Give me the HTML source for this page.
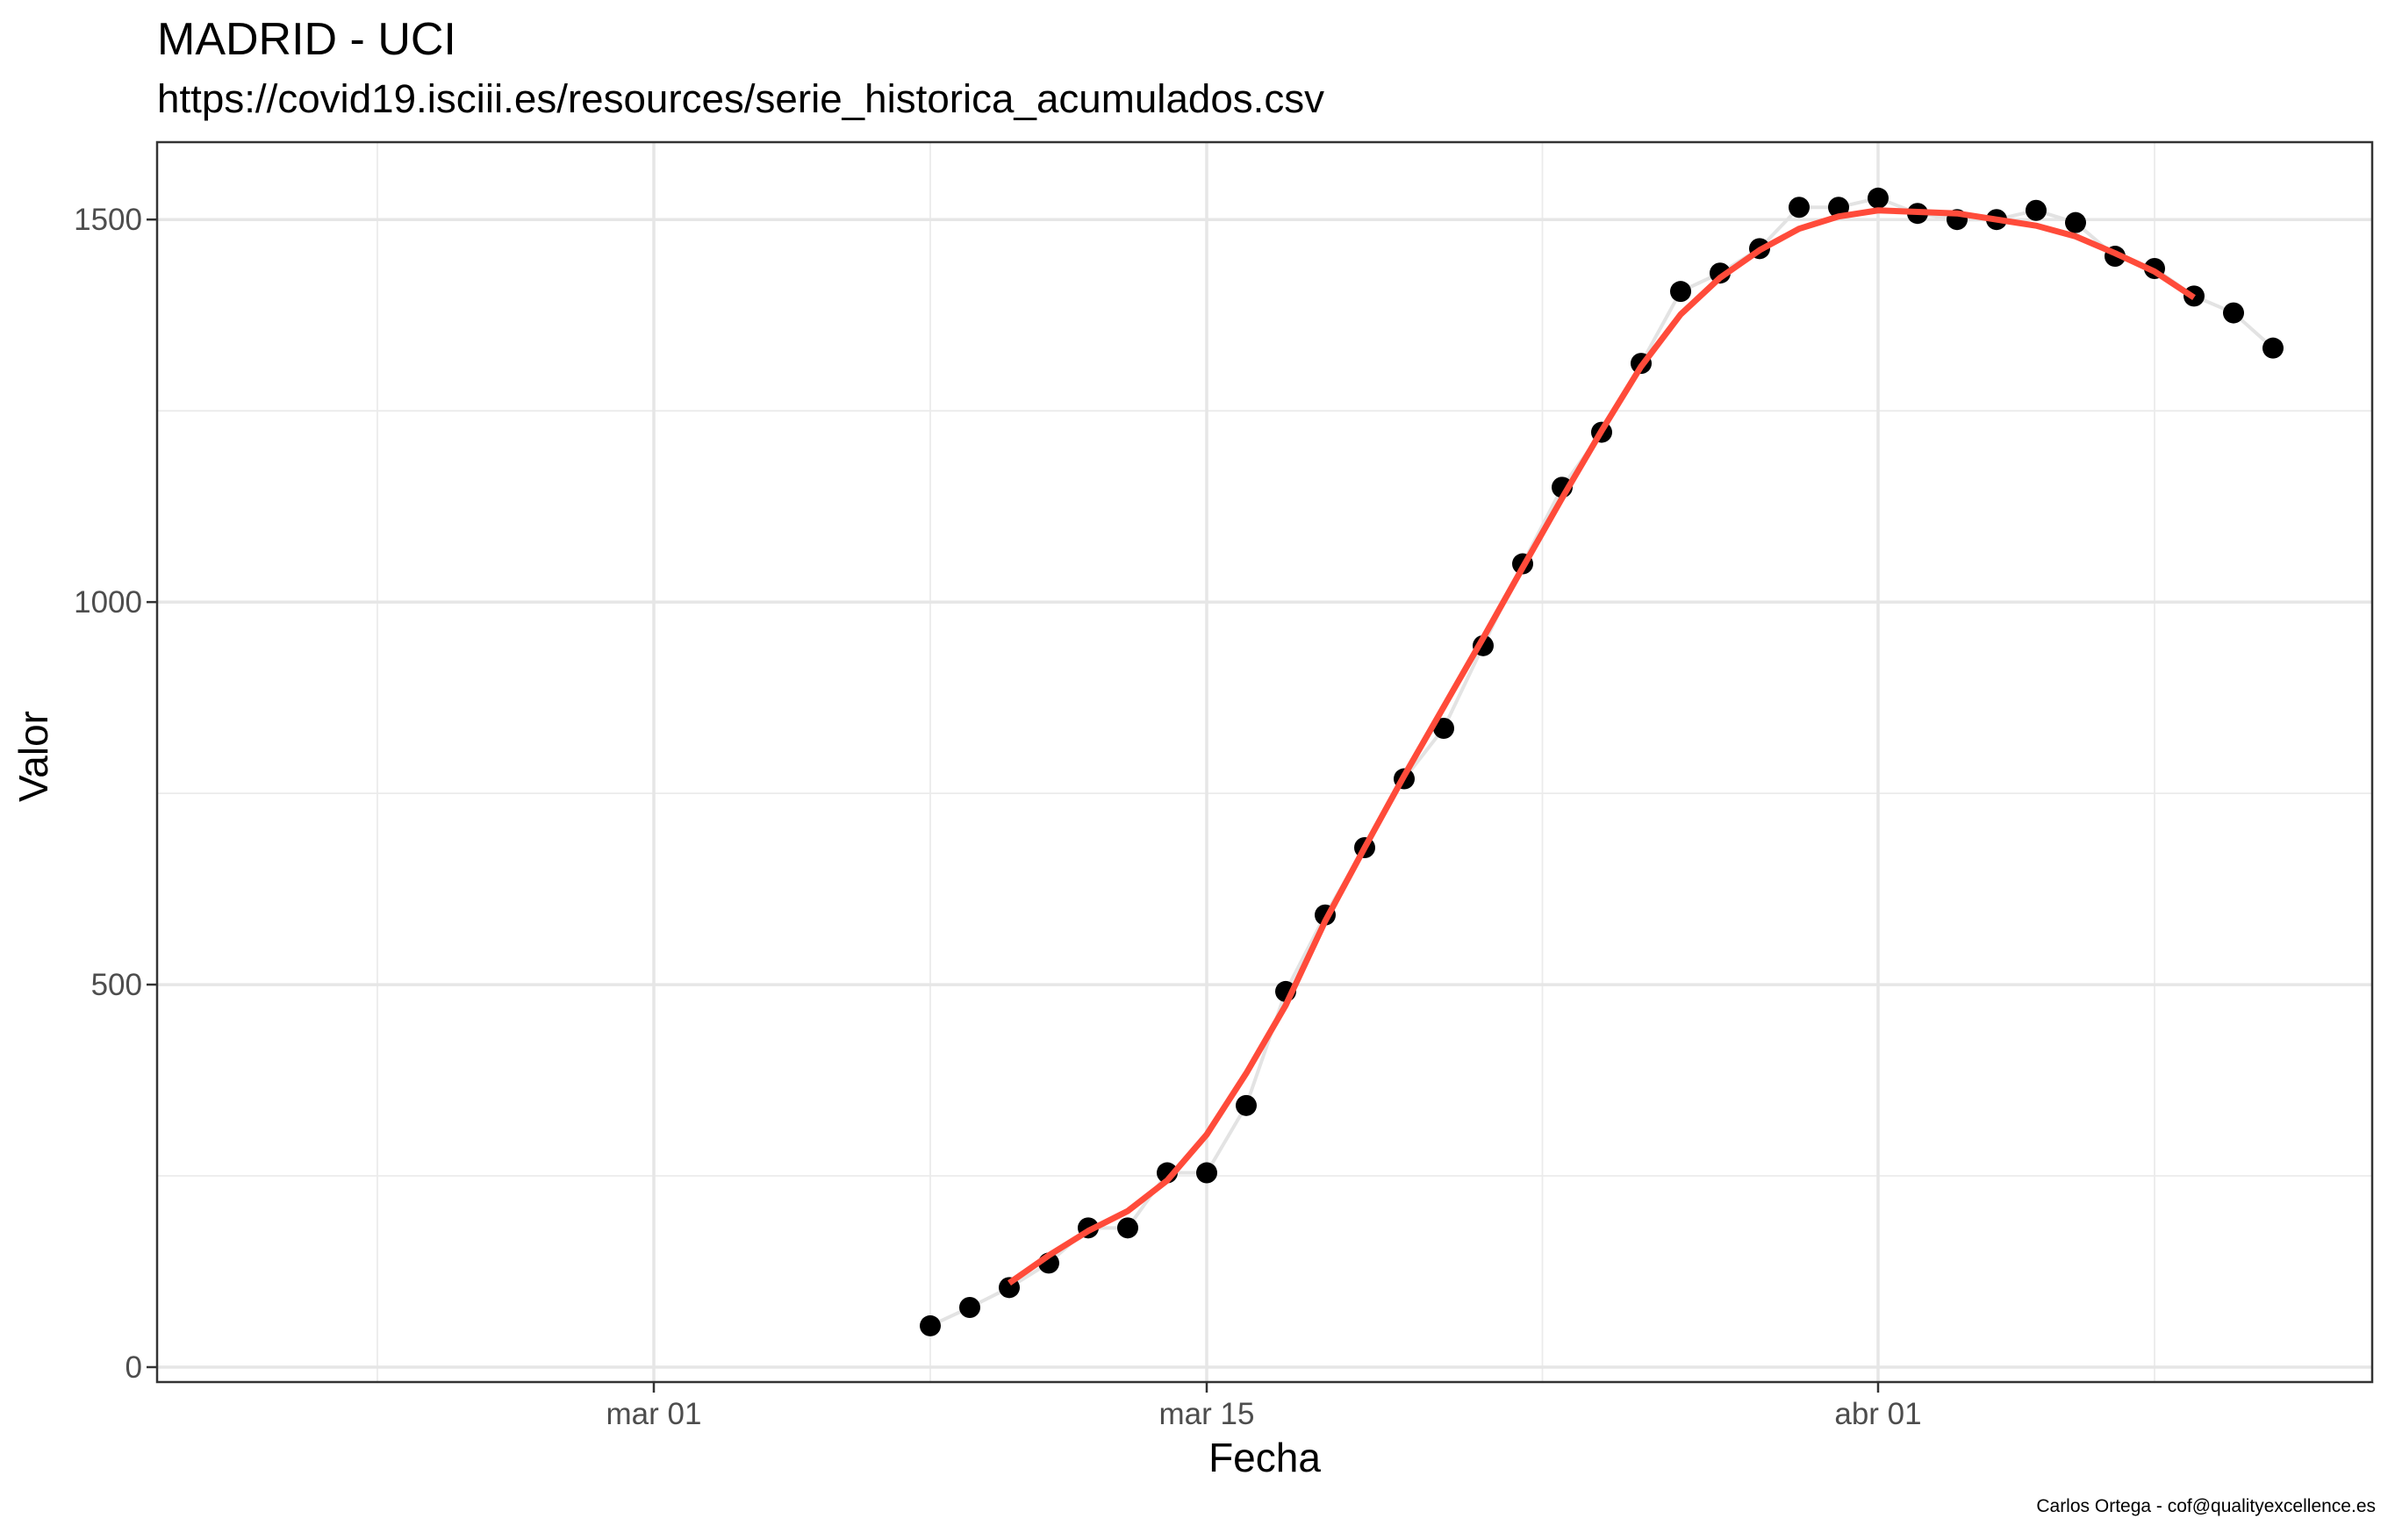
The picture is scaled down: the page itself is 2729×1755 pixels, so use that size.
<!DOCTYPE html>
<html><head><meta charset="utf-8"><style>
html,body{margin:0;padding:0;background:#fff}
svg text{font-family:"Liberation Sans",Arial,sans-serif}
</style></head><body>
<svg id="chart" width="2729" height="1750" xmlns="http://www.w3.org/2000/svg">
<rect x="0" y="0" width="2729" height="1750" fill="#fff"/>
<text x="179" y="62" font-size="52" fill="#000">MADRID - UCI</text>
<text x="179" y="128" font-size="45" textLength="1330" lengthAdjust="spacingAndGlyphs" fill="#000">https://covid19.isciii.es/resources/serie_historica_acumulados.csv</text>
<g id="grid"></g>
<g id="marks"></g>
<rect x="179" y="162" width="2524" height="1413" fill="none" stroke="#333" stroke-width="2.5"/>
<g id="axes"></g>
<text x="1441" y="1677" font-size="46" text-anchor="middle" fill="#000">Fecha</text>
<text transform="translate(54,862) rotate(-90)" font-size="46" text-anchor="middle" fill="#000">Valor</text>
<text x="2707" y="1723" font-size="21" text-anchor="end" fill="#000">Carlos Ortega - cof@qualityexcellence.es</text>
</svg>
<script>
// days since Mar 01 for each observation (Mar 8 .. Apr 11)
const pointDays = [7,8,9,10,11,12,13,14,15,16,17,18,19,20,21,22,23,24,25,26,27,28,29,30,31,32,33,34,35,36,37,38,39,40,41];
const pointValues = [54,78,104,136,182,182,254,254,342,491,591,679,769,835,943,1050,1150,1222,1312,1406,1430,1462,1516,1516,1528,1508,1500,1500,1512,1496,1452,1436,1400,1378,1332];
// smoothed series (Mar 10 .. Apr 9)
const smoothDays = [9,10,11,12,13,14,15,16,17,18,19,20,21,22,23,24,25,26,27,28,29,30,31,32,33,34,35,36,37,38,39];
const smoothValues = [110,146,178,204,244,304,384,473,583,679,773,863,953,1045,1136,1224,1308,1376,1424,1460,1488,1504,1512,1510,1508,1500,1492,1478,1456,1432,1398];
const xMajorTicks = [0,14,31];
const xTickLabels = ["mar 01","mar 15","abr 01"];
const xMinorTicks = [-7,7,22.5,38];
const yMajorTicks = [0,500,1000,1500];
const yMinorTicks = [250,750,1250];

const NS="http://www.w3.org/2000/svg";
const X0=179,X1=2703;
function xs(d){return 745+45*d;}
function ys(v){return 1558-v*0.87187;}
function mk(tag,attrs,parent){const e=document.createElementNS(NS,tag);for(const k in attrs)e.setAttribute(k,attrs[k]);parent.appendChild(e);return e;}
const grid=document.getElementById('grid'),marks=document.getElementById('marks'),axes=document.getElementById('axes');
yMinorTicks.forEach(v=>{const l=mk('line',{x1:X0,x2:X1,y1:ys(v),y2:ys(v),stroke:'#EBEBEB','stroke-width':1.8},grid);

});
xMinorTicks.forEach(d=>{const l=mk('line',{x1:xs(d),x2:xs(d),y1:162,y2:1575,stroke:'#EBEBEB','stroke-width':1.8},grid);

});
yMajorTicks.forEach(v=>{const l=mk('line',{x1:X0,x2:X1,y1:ys(v),y2:ys(v),stroke:'#E6E6E6','stroke-width':3.5},grid);


const t=mk('line',{x1:167,x2:179,y1:ys(v),y2:ys(v),stroke:'#333','stroke-width':2.5},axes);


const tx=mk('text',{x:162,y:ys(v)+12,'font-size':35,'text-anchor':'end',fill:'#4D4D4D'},axes);
tx.textContent=String(v);

});
xMajorTicks.forEach((d,i)=>{const l=mk('line',{x1:xs(d),x2:xs(d),y1:162,y2:1575,stroke:'#E6E6E6','stroke-width':3.5},grid);


const t=mk('line',{x1:xs(d),x2:xs(d),y1:1575,y2:1587,stroke:'#333','stroke-width':2.5},axes);


const tx=mk('text',{x:xs(d),y:1623,'font-size':35,'text-anchor':'middle',fill:'#4D4D4D'},axes);
tx.textContent=xTickLabels[i];

});
const gp=mk('polyline',{points:pointDays.map((d,i)=>xs(d)+','+ys(pointValues[i])).join(' '),fill:'none',stroke:'#E3E3E3','stroke-width':4},marks);


pointDays.forEach((d,i)=>{const c=mk('circle',{cx:xs(d),cy:ys(pointValues[i]),r:12,fill:'#000'},marks);

});
const rp=mk('polyline',{points:smoothDays.map((d,i)=>xs(d)+','+ys(smoothValues[i])).join(' '),fill:'none',stroke:'#FF4B3A','stroke-width':7,'stroke-linejoin':'round'},marks);


</script>
</body></html>
